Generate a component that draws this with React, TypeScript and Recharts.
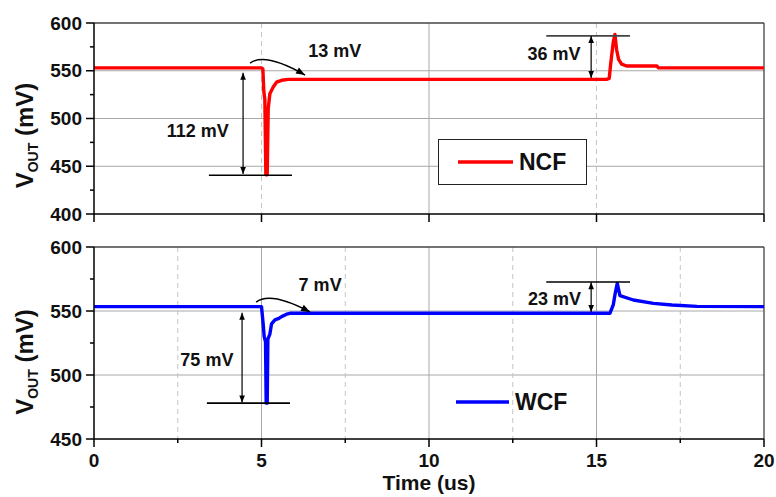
import React from "react";
import {
  LineChart,
  Line,
  XAxis,
  YAxis,
  CartesianGrid,
  ReferenceLine,
  ReferenceDot,
  Legend,
} from "recharts";

const FONT = "Arial, 'Liberation Sans', sans-serif";

// NCF transient (top panel), time in us, Vout in mV
const ncfTime = [
  0, 5.0, 5.04, 5.07, 5.1, 5.13, 5.17, 5.2, 5.25, 5.35, 5.45, 5.6, 5.8,
  15.3, 15.38, 15.42, 15.5, 15.55, 15.6, 15.66, 15.75, 15.9, 16.8, 16.85, 20,
];
const ncfVout = [
  553, 553, 552, 528, 520, 441, 441, 510, 526, 533, 538, 540, 541,
  541, 542, 556, 580, 588, 572, 562, 557, 555, 555, 553, 553,
];

// WCF transient (bottom panel)
const wcfTime = [
  0, 5.0, 5.05, 5.08, 5.12, 5.14, 5.17, 5.19, 5.25, 5.3, 5.4, 5.5, 5.6, 5.75,
  5.85, 15.4, 15.5, 15.56, 15.62, 15.7, 16.1, 16.7, 17.25, 18.0, 20,
];
const wcfVout = [
  553.4, 553.4, 540, 530, 526, 478, 478, 528, 532, 540, 543, 544, 545.6, 547.5,
  548.2, 548.2, 554.7, 564, 571.6, 562, 558.6, 556, 554.7, 553.6, 553.4,
];

const topTimeTicks = [0, 5, 10, 15, 20];
const bottomTimeTicks = [0, 2.5, 5, 7.5, 10, 12.5, 15, 17.5, 20];
const topVoutTicks = [400, 425, 450, 475, 500, 525, 550, 575, 600];
const bottomVoutTicks = [450, 475, 500, 525, 550, 575, 600];

const ncfData = ncfTime.map((t, i) => ({ t, v: ncfVout[i] }));
const wcfData = wcfTime.map((t, i) => ({ t, v: wcfVout[i] }));

type Pt = { x: number; y: number };

function arrowHead(tip: Pt, from: Pt, len = 7, half = 2.8) {
  const dx = tip.x - from.x;
  const dy = tip.y - from.y;
  const d = Math.hypot(dx, dy) || 1;
  const ux = dx / d;
  const uy = dy / d;
  const bx = tip.x - ux * len;
  const by = tip.y - uy * len;
  return `M${tip.x},${tip.y}L${bx - uy * half},${by + ux * half}L${bx + uy * half},${by - ux * half}Z`;
}

const DoubleArrow = (p: any) => {
  const a = { x: p.x1, y: p.y1 };
  const b = { x: p.x2, y: p.y2 };
  return (
    <g>
      <line x1={a.x} y1={a.y} x2={b.x} y2={b.y} stroke="#000" strokeWidth={1.2} />
      <path d={arrowHead(a, b)} fill="#000" />
      <path d={arrowHead(b, a)} fill="#000" />
    </g>
  );
};

const CurvedArrow = (p: any) => {
  const cx = p.x1 + (p.x2 - p.x1) * 0.27;
  const cy = Math.min(p.y1, p.y2) - 11;
  return (
    <g>
      <path
        d={`M${p.x1},${p.y1} Q${cx},${cy} ${p.x2},${p.y2}`}
        fill="none"
        stroke="#000"
        strokeWidth={1.5}
      />
      <path d={arrowHead({ x: p.x2, y: p.y2 }, { x: cx, y: cy }, 9, 3.5)} fill="#000" />
    </g>
  );
};

const PlainLine = (color: string) => (p: any) =>
  <line x1={p.x1} y1={p.y1} x2={p.x2} y2={p.y2} stroke={color} strokeWidth={1.6} />;

const note = (text: string) => (p: any) =>
  (
    <text
      x={p.cx}
      y={p.cy}
      textAnchor="middle"
      dominantBaseline="central"
      fontFamily={FONT}
      fontWeight="bold"
      fontSize={18}
      fill="#111"
    >
      {text}
    </text>
  );

function YTick({ x, y, payload }: any) {
  const major = payload.value % 50 === 0;
  return (
    <g>
      <line x1={x - (major ? 8 : 4)} x2={x} y1={y} y2={y} stroke="#000" strokeWidth={1.5} />
      {major && (
        <text
          x={x - 12}
          y={y}
          textAnchor="end"
          dominantBaseline="central"
          fontSize={19}
          fontWeight="bold"
          fontFamily={FONT}
          fill="#111"
        >
          {payload.value}
        </text>
      )}
    </g>
  );
}

const xTick = (showLabel: boolean) => ({ x, y, payload }: any) => {
  const major = payload.value % 5 === 0;
  return (
    <g>
      <line x1={x} x2={x} y1={y} y2={y + (major ? 8 : 4)} stroke="#000" strokeWidth={1.5} />
      {showLabel && major && (
        <text
          x={x}
          y={y + 21}
          textAnchor="middle"
          dominantBaseline="central"
          fontSize={19}
          fontWeight="bold"
          fontFamily={FONT}
          fill="#111"
        >
          {payload.value}
        </text>
      )}
    </g>
  );
};

const voutLabel = (shift: number) => (props: any) => {
  const vb = props.viewBox;
  const cx = 33;
  const cy = vb.y + vb.height / 2 + shift;
  return (
    <text
      x={cx}
      y={cy}
      transform={`rotate(-90, ${cx}, ${cy})`}
      textAnchor="middle"
      fontFamily={FONT}
      fontWeight="bold"
      fontSize={24}
      fill="#111"
    >
      V
      <tspan fontSize={14} dy={5}>
        OUT
      </tspan>
      <tspan dy={-5}> (mV)</tspan>
    </text>
  );
};

const timeLabel = (props: any) => {
  const vb = props.viewBox;
  return (
    <text
      x={vb.x + vb.width / 2}
      y={vb.y + vb.height - 7}
      textAnchor="middle"
      fontFamily={FONT}
      fontWeight="bold"
      fontSize={21}
      fill="#111"
    >
      Time (us)
    </text>
  );
};

const legendText: React.CSSProperties = {
  fontFamily: FONT,
  fontWeight: "bold",
  fontSize: 23,
  color: "#111",
  lineHeight: "23px",
};

export default function App() {
  return (
    <div
      style={{
        position: "absolute",
        left: 0,
        top: 0,
        width: 776,
        height: 497,
        background: "#fff",
        fontFamily: FONT,
      }}
    >
      <div style={{ position: "absolute", left: 0, top: 0 }}>
        <LineChart
          width={776}
          height={225}
          data={ncfData}
          margin={{ top: 23, right: 12, left: 0, bottom: 0 }}
        >
          <CartesianGrid
            horizontalValues={[450, 500, 550]}
            verticalValues={[10]}
            stroke="#a8a8a8"
            strokeWidth={1}
          />
          <CartesianGrid
            horizontal={false}
            verticalValues={[5, 15]}
            stroke="#c4c4c4"
            strokeDasharray="5 4"
          />
          <XAxis
            type="number"
            dataKey="t"
            domain={[0, 20]}
            ticks={topTimeTicks}
            interval={0}
            height={11}
            tickSize={0}
            tickMargin={0}
            tickLine={false}
            tick={xTick(false)}
            axisLine={{ stroke: "#000", strokeWidth: 1.5 }}
          />
          <YAxis
            type="number"
            domain={[400, 600]}
            ticks={topVoutTicks}
            interval={0}
            width={94}
            tickSize={0}
            tickMargin={0}
            tickLine={false}
            tick={YTick}
            axisLine={{ stroke: "#000", strokeWidth: 1.5 }}
            label={voutLabel(17)}
          />
          <ReferenceLine y={600} stroke="#444" strokeWidth={1.3} />
          <ReferenceLine x={20} stroke="#444" strokeWidth={1.3} />
          <Line
            type="linear"
            dataKey="v"
            name="NCF"
            stroke="#ff0000"
            strokeWidth={3.4}
            strokeLinejoin="round"
            dot={false}
            isAnimationActive={false}
          />
          <ReferenceLine
            segment={[{ x: 3.43, y: 440.5 }, { x: 5.91, y: 440.5 }]}
            shape={PlainLine("#000")}
          />
          <ReferenceLine
            segment={[{ x: 4.45, y: 548 }, { x: 4.45, y: 442 }]}
            shape={DoubleArrow}
          />
          <ReferenceLine
            segment={[{ x: 4.66, y: 558 }, { x: 6.3, y: 545.5 }]}
            shape={CurvedArrow}
          />
          <ReferenceLine
            segment={[{ x: 13.5, y: 586.5 }, { x: 16.0, y: 586.5 }]}
            shape={PlainLine("#444")}
          />
          <ReferenceLine
            segment={[{ x: 14.84, y: 542.5 }, { x: 14.84, y: 586.5 }]}
            shape={DoubleArrow}
          />
          <ReferenceDot x={3.1} y={487} r={0} shape={note("112 mV")} />
          <ReferenceDot x={7.19} y={570.7} r={0} shape={note("13 mV")} />
          <ReferenceDot x={13.73} y={567.5} r={0} shape={note("36 mV")} />
          <Legend
            layout="horizontal"
            verticalAlign="middle"
            align="center"
            wrapperStyle={{ left: 438, top: 139, width: "auto", height: "auto" }}
            content={() => (
              <div
                style={{
                  width: 149,
                  height: 46,
                  boxSizing: "border-box",
                  border: "1.5px solid #222",
                  background: "#fff",
                  display: "flex",
                  alignItems: "center",
                }}
              >
                <svg width={80} height={10} style={{ display: "block" }}>
                  <line x1={19} x2={74} y1={5} y2={5} stroke="#ff0000" strokeWidth={3.4} />
                </svg>
                <span style={legendText}>NCF</span>
              </div>
            )}
          />
        </LineChart>
      </div>

      <div style={{ position: "absolute", left: 0, top: 225 }}>
        <LineChart
          width={776}
          height={272}
          data={wcfData}
          margin={{ top: 22, right: 12, left: 0, bottom: 0 }}
        >
          <CartesianGrid
            horizontalValues={[500, 550]}
            verticalValues={[5, 10, 15]}
            stroke="#a8a8a8"
            strokeWidth={1}
          />
          <CartesianGrid
            horizontal={false}
            verticalValues={[2.5, 7.5, 12.5, 17.5]}
            stroke="#c4c4c4"
            strokeDasharray="5 4"
          />
          <XAxis
            type="number"
            dataKey="t"
            domain={[0, 20]}
            ticks={bottomTimeTicks}
            interval={0}
            height={58}
            tickSize={0}
            tickMargin={0}
            tickLine={false}
            tick={xTick(true)}
            axisLine={{ stroke: "#000", strokeWidth: 1.5 }}
            label={timeLabel}
          />
          <YAxis
            type="number"
            domain={[450, 600]}
            ticks={bottomVoutTicks}
            interval={0}
            width={94}
            tickSize={0}
            tickMargin={0}
            tickLine={false}
            tick={YTick}
            axisLine={{ stroke: "#000", strokeWidth: 1.5 }}
            label={voutLabel(19)}
          />
          <ReferenceLine y={600} stroke="#444" strokeWidth={1.3} />
          <ReferenceLine x={20} stroke="#444" strokeWidth={1.3} />
          <Line
            type="linear"
            dataKey="v"
            name="WCF"
            stroke="#0000ff"
            strokeWidth={3.4}
            strokeLinejoin="round"
            dot={false}
            isAnimationActive={false}
          />
          <ReferenceLine
            segment={[{ x: 3.37, y: 478 }, { x: 5.85, y: 478 }]}
            shape={PlainLine("#000")}
          />
          <ReferenceLine
            segment={[{ x: 4.42, y: 548.7 }, { x: 4.42, y: 478.5 }]}
            shape={DoubleArrow}
          />
          <ReferenceLine
            segment={[{ x: 4.84, y: 557 }, { x: 6.45, y: 549.2 }]}
            shape={CurvedArrow}
          />
          <ReferenceLine
            segment={[{ x: 13.5, y: 572.7 }, { x: 16.0, y: 572.7 }]}
            shape={PlainLine("#000")}
          />
          <ReferenceLine
            segment={[{ x: 14.84, y: 549.3 }, { x: 14.84, y: 572.5 }]}
            shape={DoubleArrow}
          />
          <ReferenceDot x={3.37} y={511.7} r={0} shape={note("75 mV")} />
          <ReferenceDot x={6.75} y={570.3} r={0} shape={note("7 mV")} />
          <ReferenceDot x={13.75} y={559.4} r={0} shape={note("23 mV")} />
          <Legend
            layout="horizontal"
            verticalAlign="middle"
            align="center"
            wrapperStyle={{ left: 450, top: 165, width: "auto", height: "auto" }}
            content={() => (
              <div style={{ display: "flex", alignItems: "center", height: 24 }}>
                <svg width={65} height={10} style={{ display: "block" }}>
                  <line x1={6} x2={59} y1={5} y2={5} stroke="#0000ff" strokeWidth={3.4} />
                </svg>
                <span style={legendText}>WCF</span>
              </div>
            )}
          />
        </LineChart>
      </div>
    </div>
  );
}
